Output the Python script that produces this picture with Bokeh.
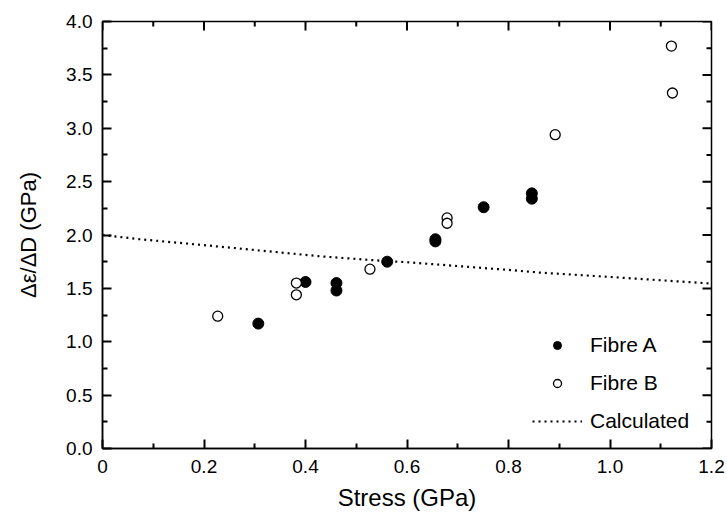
import math
from bokeh.plotting import figure
from bokeh.models import (Range1d, FixedTicker, LinearAxis, Legend, LegendItem)
from bokeh.embed import file_html
from bokeh.resources import INLINE

# Data
fibre_a_x = [0.307, 0.400, 0.461, 0.461, 0.561, 0.656, 0.656, 0.751, 0.846, 0.846]
fibre_a_y = [1.17, 1.56, 1.55, 1.48, 1.75, 1.94, 1.96, 2.26, 2.34, 2.39]
fibre_b_x = [0.227, 0.382, 0.382, 0.527, 0.679, 0.679, 0.892, 1.121, 1.123]
fibre_b_y = [1.24, 1.55, 1.44, 1.68, 2.16, 2.11, 2.94, 3.77, 3.33]
calc_x = [0.0, 0.074, 0.2, 0.43, 0.56, 0.6, 0.8, 0.861, 1.0, 1.2]
calc_y = [2.0, 1.96, 1.905, 1.80, 1.755, 1.745, 1.673, 1.648, 1.607, 1.545]

x_ticks = [0.0, 0.2, 0.4, 0.6, 0.8, 1.0, 1.2]
x_minor = [0.1, 0.3, 0.5, 0.7, 0.9, 1.1]
y_ticks = [0.0, 0.5, 1.0, 1.5, 2.0, 2.5, 3.0, 3.5, 4.0]
y_minor = [0.25, 0.75, 1.25, 1.75, 2.25, 2.75, 3.25, 3.75]
x_labels = {0.0: "0", 0.2: "0.2", 0.4: "0.4", 0.6: "0.6", 0.8: "0.8", 1.0: "1.0", 1.2: "1.2"}
y_labels = {v: f"{v:.1f}" for v in y_ticks}

FONT = "Liberation Sans"

p = figure(width=727, height=514, output_backend="svg", toolbar_location=None,
           x_range=Range1d(x_ticks[0], x_ticks[-1]), y_range=Range1d(y_ticks[0], y_ticks[-1]),
           x_axis_location=None, y_axis_location=None,
           min_border_left=102, min_border_right=16, min_border_top=21, min_border_bottom=66)
p.grid.visible = False
p.outline_line_color = "black"
p.outline_line_width = 1.5
p.background_fill_color = "white"
p.border_fill_color = "white"


def make_axis(ticks, minor, labels, title, title_size):
    ax = LinearAxis(ticker=FixedTicker(ticks=ticks, minor_ticks=minor))
    ax.major_label_overrides = labels
    ax.major_tick_in = 9
    ax.major_tick_out = 0
    ax.minor_tick_in = 5
    ax.minor_tick_out = 0
    ax.major_tick_line_color = "black"
    ax.minor_tick_line_color = "black"
    ax.major_tick_line_width = 2
    ax.minor_tick_line_width = 2
    ax.axis_line_color = "black"
    ax.axis_line_width = 1.5
    ax.major_label_text_font = FONT
    ax.major_label_text_color = "black"
    ax.major_label_text_font_size = "19px"
    ax.axis_label = title
    ax.axis_label_text_font = FONT
    ax.axis_label_text_font_size = title_size
    ax.axis_label_text_font_style = "normal"
    ax.axis_label_text_color = "black"
    return ax


xb = make_axis(x_ticks, x_minor, x_labels, "Stress (GPa)", "24px")
xb.major_label_standoff = 11
xb.axis_label_standoff = 8
yl = make_axis(y_ticks, y_minor, y_labels, "Δε/ΔD (GPa)", "22px")
yl.major_label_standoff = 10
yl.axis_label_standoff = 22
p.add_layout(xb, "below")
p.add_layout(yl, "left")

# mirrored inward ticks along the top and right frame edges: dash markers
# centred on the edge, the outer half is clipped by the frame
x0, x1 = x_ticks[0], x_ticks[-1]
y0, y1 = y_ticks[0], y_ticks[-1]
tk = dict(marker="dash", line_color="black", line_width=2)
p.scatter(x=x_ticks, y=[y1] * len(x_ticks), size=18, angle=math.pi / 2, **tk)
p.scatter(x=x_minor, y=[y1] * len(x_minor), size=10, angle=math.pi / 2, **tk)
p.scatter(x=[x1] * len(y_ticks), y=y_ticks, size=18, angle=0, **tk)
p.scatter(x=[x1] * len(y_minor), y=y_minor, size=10, angle=0, **tk)

calc = p.line(calc_x, calc_y, line_color="black", line_width=2.2, line_dash="2 4")
ra = p.scatter(fibre_a_x, fibre_a_y, marker="circle", size=11, fill_color="black",
               line_color="black", line_width=1)
rb = p.scatter(fibre_b_x, fibre_b_y, marker="circle", size=10, fill_color="white",
               line_color="black", line_width=1.3)

legend = Legend(items=[LegendItem(label="Fibre A", renderers=[ra]),
                       LegendItem(label="Fibre B", renderers=[rb]),
                       LegendItem(label="Calculated", renderers=[calc])],
                location=(430, 15), orientation="vertical")
legend.border_line_color = None
legend.background_fill_alpha = 0
legend.padding = 0
legend.margin = 0
legend.spacing = 14
legend.glyph_width = 50
legend.glyph_height = 20
legend.label_height = 20
legend.label_standoff = 8
legend.label_text_font = FONT
legend.label_text_font_size = "21px"
legend.label_text_color = "black"
p.add_layout(legend, "center")

open("out.html", "w").write(file_html(p, INLINE))
